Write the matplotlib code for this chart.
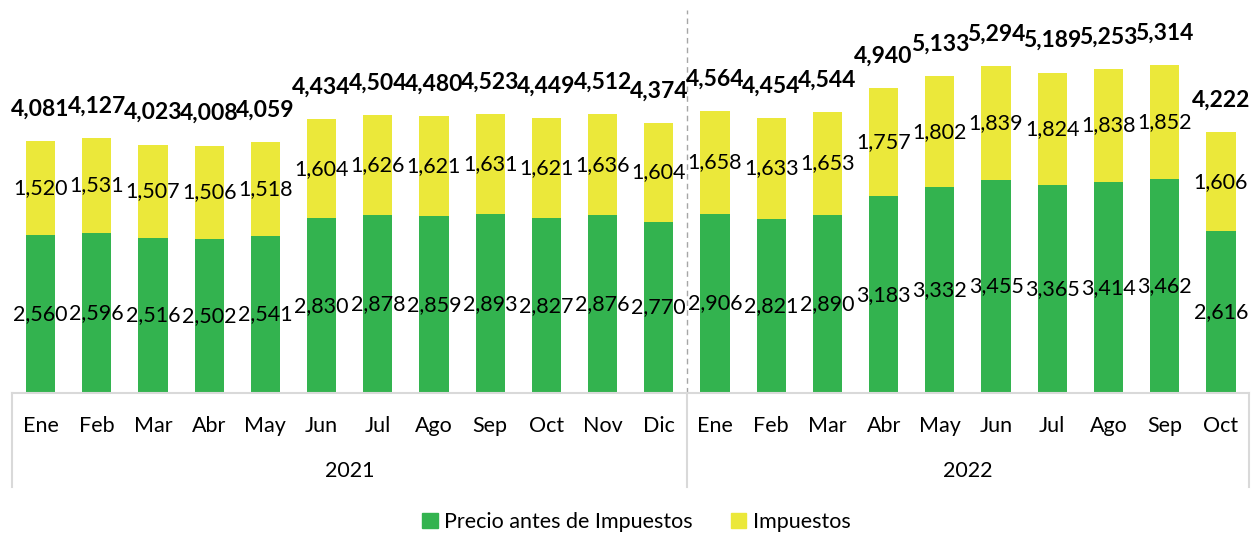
import matplotlib
matplotlib.use("Agg")
import matplotlib.pyplot as plt
from matplotlib.patches import Patch
from matplotlib.transforms import blended_transform_factory

plt.rcParams['font.family'] = ['Lato', 'DejaVu Sans']

months_2021 = ["Ene", "Feb", "Mar", "Abr", "May", "Jun", "Jul", "Ago", "Sep", "Oct", "Nov", "Dic"]
months_2022 = ["Ene", "Feb", "Mar", "Abr", "May", "Jun", "Jul", "Ago", "Sep", "Oct"]
years = ["2021", "2022"]

precio_2021 = [2560, 2596, 2516, 2502, 2541, 2830, 2878, 2859, 2893, 2827, 2876, 2770]
precio_2022 = [2906, 2821, 2890, 3183, 3332, 3455, 3365, 3414, 3462, 2616]
impuestos_2021 = [1520, 1531, 1507, 1506, 1518, 1604, 1626, 1621, 1631, 1621, 1636, 1604]
impuestos_2022 = [1658, 1633, 1653, 1757, 1802, 1839, 1824, 1838, 1852, 1606]
totales_2021 = [4081, 4127, 4023, 4008, 4059, 4434, 4504, 4480, 4523, 4449, 4512, 4374]
totales_2022 = [4564, 4454, 4544, 4940, 5133, 5294, 5189, 5253, 5314, 4222]

GREEN = "#33B34F"
YELLOW = "#EBE83A"
GRID = "#D9D9D9"

months = months_2021 + months_2022
precio = precio_2021 + precio_2022
impuestos = impuestos_2021 + impuestos_2022
totales = totales_2021 + totales_2022
x = list(range(len(months)))

W, H = 1253, 533
fig = plt.figure(figsize=(W / 100, H / 100), dpi=100)
left_px, right_px, base_px = 12.4, 1249, 393
ax = fig.add_axes([left_px / W, (H - base_px) / H, (right_px - left_px) / W, base_px / H])

ax.bar(x, precio, width=0.52, color=GREEN, zorder=2)
ax.bar(x, impuestos, width=0.52, bottom=precio, color=YELLOW, zorder=2)

ax.set_xlim(-0.5, len(months) - 0.5)
ax.set_ylim(0, 6365)
ax.axis("off")

# Baseline of the category axis
ax.plot([-0.5, len(months) - 0.5], [0, 0], color=GRID, lw=1.5, clip_on=False, zorder=3)

# Segment values
for xi, p, t in zip(x, precio, impuestos):
    ax.text(xi, p / 2, f"{p:,}", ha="center", va="center", fontsize=15.5, color="black", zorder=4)
    ax.text(xi, p + t / 2, f"{t:,}", ha="center", va="center", fontsize=15.5, color="black", zorder=4)

# Totals above the bars
for xi, tot in zip(x, totales):
    ax.annotate(f"{tot:,}", (xi, tot), xytext=(0, 23), textcoords="offset points",
                ha="center", va="center", fontsize=16.5, fontweight="bold", color="black")

# Two-level category labels
trans = blended_transform_factory(ax.transData, ax.transAxes)
for xi, m in zip(x, months):
    ax.text(xi, -33 / base_px, m, transform=trans, ha="center", va="center", fontsize=15.5)

n21 = len(months_2021)
year_centers = [(n21 - 1) / 2, n21 + (len(months_2022) - 1) / 2]
for xc, yr in zip(year_centers, years):
    ax.text(xc, -78 / base_px, yr, transform=trans, ha="center", va="center", fontsize=15.5)

# Group dividers below the axis
for xb in [-0.5, n21 - 0.5, len(months) - 0.5]:
    ax.plot([xb, xb], [0, -94 / base_px], transform=trans, color=GRID, lw=1.5, clip_on=False)

# Dashed separator between years
ax.plot([n21 - 0.5, n21 - 0.5], [0, 1 - 10 / base_px], transform=trans, color="#A6A6A6",
        lw=1, ls=(0, (4, 3)), clip_on=False, zorder=1)

handles = [Patch(color=GREEN, label="Precio antes de Impuestos"),
           Patch(color=YELLOW, label="Impuestos")]
fig.legend(handles=handles, loc="center", bbox_to_anchor=(0.508, 11 / H), ncol=2, frameon=False,
           fontsize=15.5, handlelength=0.7, handleheight=0.7, handletextpad=0.3, columnspacing=1.8)

fig.savefig("out.png", dpi=100)
